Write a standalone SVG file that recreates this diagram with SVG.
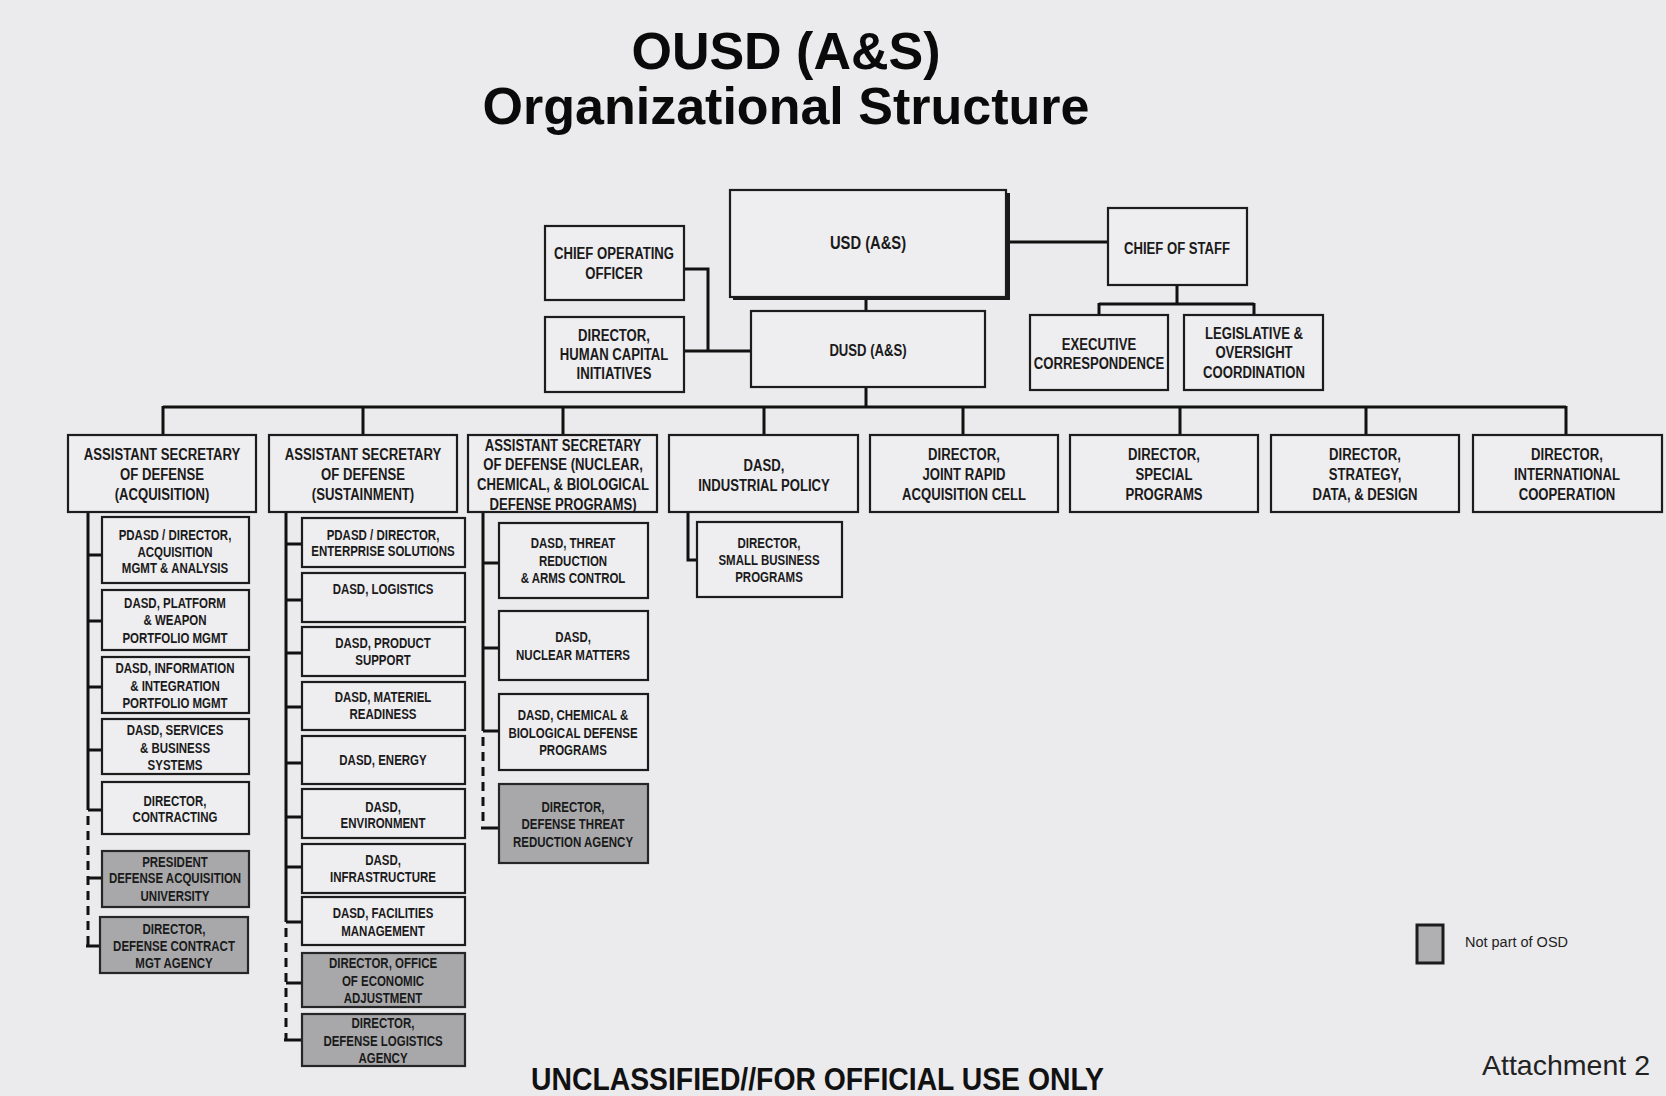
<svg xmlns="http://www.w3.org/2000/svg" width="1666" height="1096" viewBox="0 0 1666 1096">
<style>
.bg{fill:#ebeaec}
.box{fill:#eeedf0;stroke:#1c1c1c;stroke-width:2.2}
.gbox{fill:#a8a8aa;stroke:#262626;stroke-width:2.2}
.t{font-family:"Liberation Sans",Arial,sans-serif;font-weight:bold;fill:#1a1a1a;text-anchor:middle}
.s18{font-size:18px}.s16{font-size:16px}.s14{font-size:14px}
.ln{stroke:#111;stroke-width:3;fill:none}
.dash{stroke-dasharray:9 6}
.title{font-family:"Liberation Sans",Arial,sans-serif;font-weight:bold;font-size:52px;fill:#0a0a0a;text-anchor:middle}
</style>
<rect class="bg" x="0" y="0" width="1666" height="1096"/>
<g id="title">
<text class="title" x="786" y="69">OUSD (A&amp;S)</text>
<text class="title" x="786" y="124">Organizational Structure</text>
</g>
<g id="connectors">
<path class="ln" d="M684 269H708V351M684 351H751"/>
<path class="ln" d="M866 297V311M866 387V407"/>
<path class="ln" d="M1008 242H1108"/>
<path class="ln" d="M1177 285V304M1099 304H1254M1099 303V315M1254 303V315"/>
<path class="ln" d="M163 407H1566M163 406V435M363 406V435M563 406V435M764 406V435M963 406V435M1180 406V435M1366 406V435M1566 406V435"/>
<path class="ln" d="M88 512V810M88 555H102M88 621H102M88 687H102M88 750H102M88 810H102"/>
<path class="ln dash" d="M88 816V946"/>
<path class="ln" d="M88 878H102M86 946H100"/>
<path class="ln" d="M286 512V922M286 544H302M286 600H302M286 653H302M286 707H302M286 763H302M286 817H302M286 867H302M286 922H302"/>
<path class="ln dash" d="M286 928V1040"/>
<path class="ln" d="M286 983H302M284 1040H302"/>
<path class="ln" d="M483 512V731M483 563H499M483 648H499M483 731H499"/>
<path class="ln dash" d="M483 737V828"/>
<path class="ln" d="M481 828H499"/>
<path class="ln" d="M688 512V560H697"/>
</g>
<g id="usd">
<rect x="733" y="193" width="277" height="107" fill="#1a1a1a"/>
<rect class="box" x="730" y="190" width="276" height="107"/>
<g transform="translate(868 0) scale(0.82 1)"><text class="t s18" x="0" y="249">USD (A&amp;S)</text></g>
</g>
<g id="coo"><rect class="box" x="545" y="226" width="139" height="74"/>
<g transform="translate(614 0) scale(0.82 1)"><text class="t s16" x="0" y="259">CHIEF OPERATING</text><text class="t s16" x="0" y="279">OFFICER</text></g></g>
<g id="hci"><rect class="box" x="545" y="317" width="139" height="75"/>
<g transform="translate(614 0) scale(0.82 1)"><text class="t s16" x="0" y="341">DIRECTOR,</text><text class="t s16" x="0" y="360">HUMAN CAPITAL</text><text class="t s16" x="0" y="379">INITIATIVES</text></g></g>
<g id="dusd"><rect class="box" x="751" y="311" width="234" height="76"/>
<g transform="translate(868 0) scale(0.82 1)"><text class="t s16" x="0" y="356">DUSD (A&amp;S)</text></g></g>
<g id="cos"><rect class="box" x="1108" y="208" width="139" height="77"/>
<g transform="translate(1177 0) scale(0.82 1)"><text class="t s16" x="0" y="254">CHIEF OF STAFF</text></g></g>
<g id="exec"><rect class="box" x="1030" y="315" width="138" height="75"/>
<g transform="translate(1099 0) scale(0.82 1)"><text class="t s16" x="0" y="350">EXECUTIVE</text><text class="t s16" x="0" y="369">CORRESPONDENCE</text></g></g>
<g id="leg"><rect class="box" x="1184" y="315" width="139" height="75"/>
<g transform="translate(1254 0) scale(0.82 1)"><text class="t s16" x="0" y="339">LEGISLATIVE &amp;</text><text class="t s16" x="0" y="358">OVERSIGHT</text><text class="t s16" x="0" y="378">COORDINATION</text></g></g>

<g id="asd-acq"><rect class="box" x="68" y="435" width="188" height="77"/>
<g transform="translate(162 0) scale(0.82 1)"><text class="t s16" x="0" y="460">ASSISTANT SECRETARY</text><text class="t s16" x="0" y="480">OF DEFENSE</text><text class="t s16" x="0" y="500">(ACQUISITION)</text></g></g>
<g id="asd-sust"><rect class="box" x="269" y="435" width="188" height="77"/>
<g transform="translate(363 0) scale(0.82 1)"><text class="t s16" x="0" y="460">ASSISTANT SECRETARY</text><text class="t s16" x="0" y="480">OF DEFENSE</text><text class="t s16" x="0" y="500">(SUSTAINMENT)</text></g></g>
<g id="asd-ncb"><rect class="box" x="468" y="435" width="189" height="77"/>
<g transform="translate(563 0) scale(0.82 1)"><text class="t s16" x="0" y="451">ASSISTANT SECRETARY</text><text class="t s16" x="0" y="470">OF DEFENSE (NUCLEAR,</text><text class="t s16" x="0" y="490">CHEMICAL, &amp; BIOLOGICAL</text><text class="t s16" x="0" y="510">DEFENSE PROGRAMS)</text></g></g>
<g id="dasd-ip"><rect class="box" x="669" y="435" width="189" height="77"/>
<g transform="translate(764 0) scale(0.82 1)"><text class="t s16" x="0" y="471">DASD,</text><text class="t s16" x="0" y="491">INDUSTRIAL POLICY</text></g></g>
<g id="jrac"><rect class="box" x="870" y="435" width="188" height="77"/>
<g transform="translate(964 0) scale(0.82 1)"><text class="t s16" x="0" y="460">DIRECTOR,</text><text class="t s16" x="0" y="480">JOINT RAPID</text><text class="t s16" x="0" y="500">ACQUISITION CELL</text></g></g>
<g id="sp"><rect class="box" x="1070" y="435" width="188" height="77"/>
<g transform="translate(1164 0) scale(0.82 1)"><text class="t s16" x="0" y="460">DIRECTOR,</text><text class="t s16" x="0" y="480">SPECIAL</text><text class="t s16" x="0" y="500">PROGRAMS</text></g></g>
<g id="sdd"><rect class="box" x="1271" y="435" width="188" height="77"/>
<g transform="translate(1365 0) scale(0.82 1)"><text class="t s16" x="0" y="460">DIRECTOR,</text><text class="t s16" x="0" y="480">STRATEGY,</text><text class="t s16" x="0" y="500">DATA, &amp; DESIGN</text></g></g>
<g id="ic"><rect class="box" x="1473" y="435" width="189" height="77"/>
<g transform="translate(1567 0) scale(0.82 1)"><text class="t s16" x="0" y="460">DIRECTOR,</text><text class="t s16" x="0" y="480">INTERNATIONAL</text><text class="t s16" x="0" y="500">COOPERATION</text></g></g>

<g id="pdasd-ama"><rect class="box" x="102" y="517" width="147" height="66"/>
<g transform="translate(175 0) scale(0.82 1)"><text class="t s14" x="0" y="540">PDASD / DIRECTOR,</text><text class="t s14" x="0" y="557">ACQUISITION</text><text class="t s14" x="0" y="573">MGMT &amp; ANALYSIS</text></g></g>
<g id="dasd-pwpm"><rect class="box" x="102" y="590" width="147" height="60"/>
<g transform="translate(175 0) scale(0.82 1)"><text class="t s14" x="0" y="608">DASD, PLATFORM</text><text class="t s14" x="0" y="625">&amp; WEAPON</text><text class="t s14" x="0" y="643">PORTFOLIO MGMT</text></g></g>
<g id="dasd-iipm"><rect class="box" x="102" y="657" width="147" height="56"/>
<g transform="translate(175 0) scale(0.82 1)"><text class="t s14" x="0" y="673">DASD, INFORMATION</text><text class="t s14" x="0" y="691">&amp; INTEGRATION</text><text class="t s14" x="0" y="708">PORTFOLIO MGMT</text></g></g>
<g id="dasd-sbs"><rect class="box" x="102" y="719" width="147" height="55"/>
<g transform="translate(175 0) scale(0.82 1)"><text class="t s14" x="0" y="735">DASD, SERVICES</text><text class="t s14" x="0" y="753">&amp; BUSINESS</text><text class="t s14" x="0" y="770">SYSTEMS</text></g></g>
<g id="dir-contracting"><rect class="box" x="102" y="782" width="147" height="52"/>
<g transform="translate(175 0) scale(0.82 1)"><text class="t s14" x="0" y="806">DIRECTOR,</text><text class="t s14" x="0" y="822">CONTRACTING</text></g></g>
<g id="dau"><rect class="gbox" x="102" y="851" width="147" height="56"/>
<g transform="translate(175 0) scale(0.82 1)"><text class="t s14" x="0" y="867">PRESIDENT</text><text class="t s14" x="0" y="883">DEFENSE ACQUISITION</text><text class="t s14" x="0" y="901">UNIVERSITY</text></g></g>
<g id="dcma"><rect class="gbox" x="100" y="917" width="148" height="56"/>
<g transform="translate(174 0) scale(0.82 1)"><text class="t s14" x="0" y="934">DIRECTOR,</text><text class="t s14" x="0" y="951">DEFENSE CONTRACT</text><text class="t s14" x="0" y="968">MGT AGENCY</text></g></g>

<g id="pdasd-es"><rect class="box" x="302" y="518" width="163" height="49"/>
<g transform="translate(383 0) scale(0.82 1)"><text class="t s14" x="0" y="540">PDASD / DIRECTOR,</text><text class="t s14" x="0" y="556">ENTERPRISE SOLUTIONS</text></g></g>
<g id="dasd-log"><rect class="box" x="302" y="573" width="163" height="49"/>
<g transform="translate(383 0) scale(0.82 1)"><text class="t s14" x="0" y="594">DASD, LOGISTICS</text></g></g>
<g id="dasd-ps"><rect class="box" x="302" y="627" width="163" height="49"/>
<g transform="translate(383 0) scale(0.82 1)"><text class="t s14" x="0" y="648">DASD, PRODUCT</text><text class="t s14" x="0" y="665">SUPPORT</text></g></g>
<g id="dasd-mr"><rect class="box" x="302" y="682" width="163" height="48"/>
<g transform="translate(383 0) scale(0.82 1)"><text class="t s14" x="0" y="702">DASD, MATERIEL</text><text class="t s14" x="0" y="719">READINESS</text></g></g>
<g id="dasd-en"><rect class="box" x="302" y="736" width="163" height="48"/>
<g transform="translate(383 0) scale(0.82 1)"><text class="t s14" x="0" y="765">DASD, ENERGY</text></g></g>
<g id="dasd-env"><rect class="box" x="302" y="789" width="163" height="49"/>
<g transform="translate(383 0) scale(0.82 1)"><text class="t s14" x="0" y="812">DASD,</text><text class="t s14" x="0" y="828">ENVIRONMENT</text></g></g>
<g id="dasd-inf"><rect class="box" x="302" y="844" width="163" height="49"/>
<g transform="translate(383 0) scale(0.82 1)"><text class="t s14" x="0" y="865">DASD,</text><text class="t s14" x="0" y="882">INFRASTRUCTURE</text></g></g>
<g id="dasd-fm"><rect class="box" x="302" y="897" width="163" height="48"/>
<g transform="translate(383 0) scale(0.82 1)"><text class="t s14" x="0" y="918">DASD, FACILITIES</text><text class="t s14" x="0" y="936">MANAGEMENT</text></g></g>
<g id="oea"><rect class="gbox" x="302" y="953" width="163" height="54"/>
<g transform="translate(383 0) scale(0.82 1)"><text class="t s14" x="0" y="968">DIRECTOR, OFFICE</text><text class="t s14" x="0" y="986">OF ECONOMIC</text><text class="t s14" x="0" y="1003">ADJUSTMENT</text></g></g>
<g id="dla"><rect class="gbox" x="302" y="1014" width="163" height="52"/>
<g transform="translate(383 0) scale(0.82 1)"><text class="t s14" x="0" y="1028">DIRECTOR,</text><text class="t s14" x="0" y="1046">DEFENSE LOGISTICS</text><text class="t s14" x="0" y="1063">AGENCY</text></g></g>

<g id="dasd-trac"><rect class="box" x="499" y="523" width="149" height="75"/>
<g transform="translate(573 0) scale(0.82 1)"><text class="t s14" x="0" y="548">DASD, THREAT</text><text class="t s14" x="0" y="566">REDUCTION</text><text class="t s14" x="0" y="583">&amp; ARMS CONTROL</text></g></g>
<g id="dasd-nm"><rect class="box" x="499" y="611" width="149" height="69"/>
<g transform="translate(573 0) scale(0.82 1)"><text class="t s14" x="0" y="642">DASD,</text><text class="t s14" x="0" y="660">NUCLEAR MATTERS</text></g></g>
<g id="dasd-cbdp"><rect class="box" x="499" y="694" width="149" height="76"/>
<g transform="translate(573 0) scale(0.82 1)"><text class="t s14" x="0" y="720">DASD, CHEMICAL &amp;</text><text class="t s14" x="0" y="738">BIOLOGICAL DEFENSE</text><text class="t s14" x="0" y="755">PROGRAMS</text></g></g>
<g id="dtra"><rect class="gbox" x="499" y="784" width="149" height="79"/>
<g transform="translate(573 0) scale(0.82 1)"><text class="t s14" x="0" y="812">DIRECTOR,</text><text class="t s14" x="0" y="829">DEFENSE THREAT</text><text class="t s14" x="0" y="847">REDUCTION AGENCY</text></g></g>

<g id="sbp"><rect class="box" x="697" y="522" width="145" height="75"/>
<g transform="translate(769 0) scale(0.82 1)"><text class="t s14" x="0" y="548">DIRECTOR,</text><text class="t s14" x="0" y="565">SMALL BUSINESS</text><text class="t s14" x="0" y="582">PROGRAMS</text></g></g>

<g id="legend">
<rect x="1417" y="925" width="26" height="38" fill="#b0b0b2" stroke="#1c1c1c" stroke-width="3"/>
<text x="1465" y="947" font-family="Liberation Sans, Arial, sans-serif" font-size="14" fill="#222" textLength="103" lengthAdjust="spacingAndGlyphs">Not part of OSD</text>
</g>
<g id="footer">
<text x="531" y="1090" font-family="Liberation Sans, Arial, sans-serif" font-weight="bold" font-size="31" fill="#111" textLength="573" lengthAdjust="spacingAndGlyphs">UNCLASSIFIED//FOR OFFICIAL USE ONLY</text>
<text x="1482" y="1075" font-family="Liberation Sans, Arial, sans-serif" font-size="28" fill="#222" textLength="168" lengthAdjust="spacingAndGlyphs">Attachment 2</text>
</g>
</svg>
